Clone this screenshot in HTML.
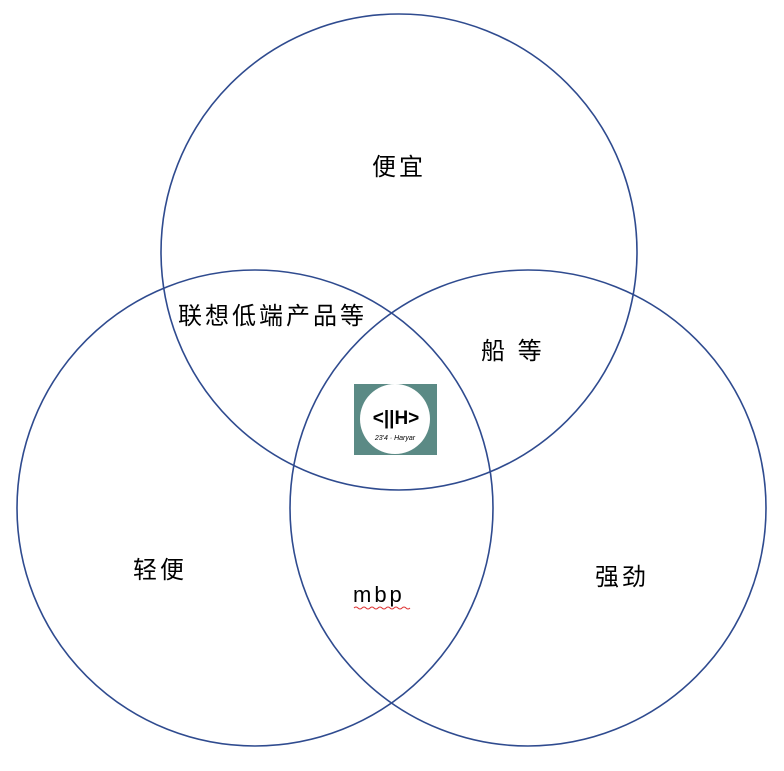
<!DOCTYPE html>
<html><head><meta charset="utf-8"><style>
html,body{margin:0;padding:0;background:#fff;}
svg{display:block;}
text{font-family:"Liberation Sans","Noto Sans CJK SC",sans-serif;font-size:24px;letter-spacing:3px;fill:#000;}
</style></head><body>
<svg width="784" height="771" viewBox="0 0 784 771">
<circle cx="399" cy="252" r="238" fill="none" stroke="#2f4b8f" stroke-width="1.6"/>
<circle cx="255" cy="508" r="238" fill="none" stroke="#2f4b8f" stroke-width="1.6"/>
<circle cx="528" cy="508" r="238" fill="none" stroke="#2f4b8f" stroke-width="1.6"/>
<text x="372" y="175">便宜</text>
<text x="178" y="324">联想低端产品等</text>
<text x="481" y="359">船 等</text>
<text x="133" y="578">轻便</text>
<text x="595" y="585">强劲</text>
<text x="353" y="602" style="font-size:22px;letter-spacing:3px">mbp</text>
<path d="M354 608 q2 -2 4 0 t4 0 t4 0 t4 0 t4 0 t4 0 t4 0 t4 0 t4 0 t4 0 t4 0 t4 0 t4 0 t4 0" fill="none" stroke="#d33" stroke-width="1"/>
<rect x="354" y="384" width="83" height="71" fill="#5b8a85"/>
<circle cx="395" cy="419" r="35" fill="#fff"/>
<text x="396" y="424" text-anchor="middle" style="font-size:19px;letter-spacing:0;font-weight:bold">&lt;||H&gt;</text>
<text x="395" y="440" text-anchor="middle" style="font-size:7px;letter-spacing:0;font-style:italic">23'4 · Haryar</text>
</svg>
</body></html>
